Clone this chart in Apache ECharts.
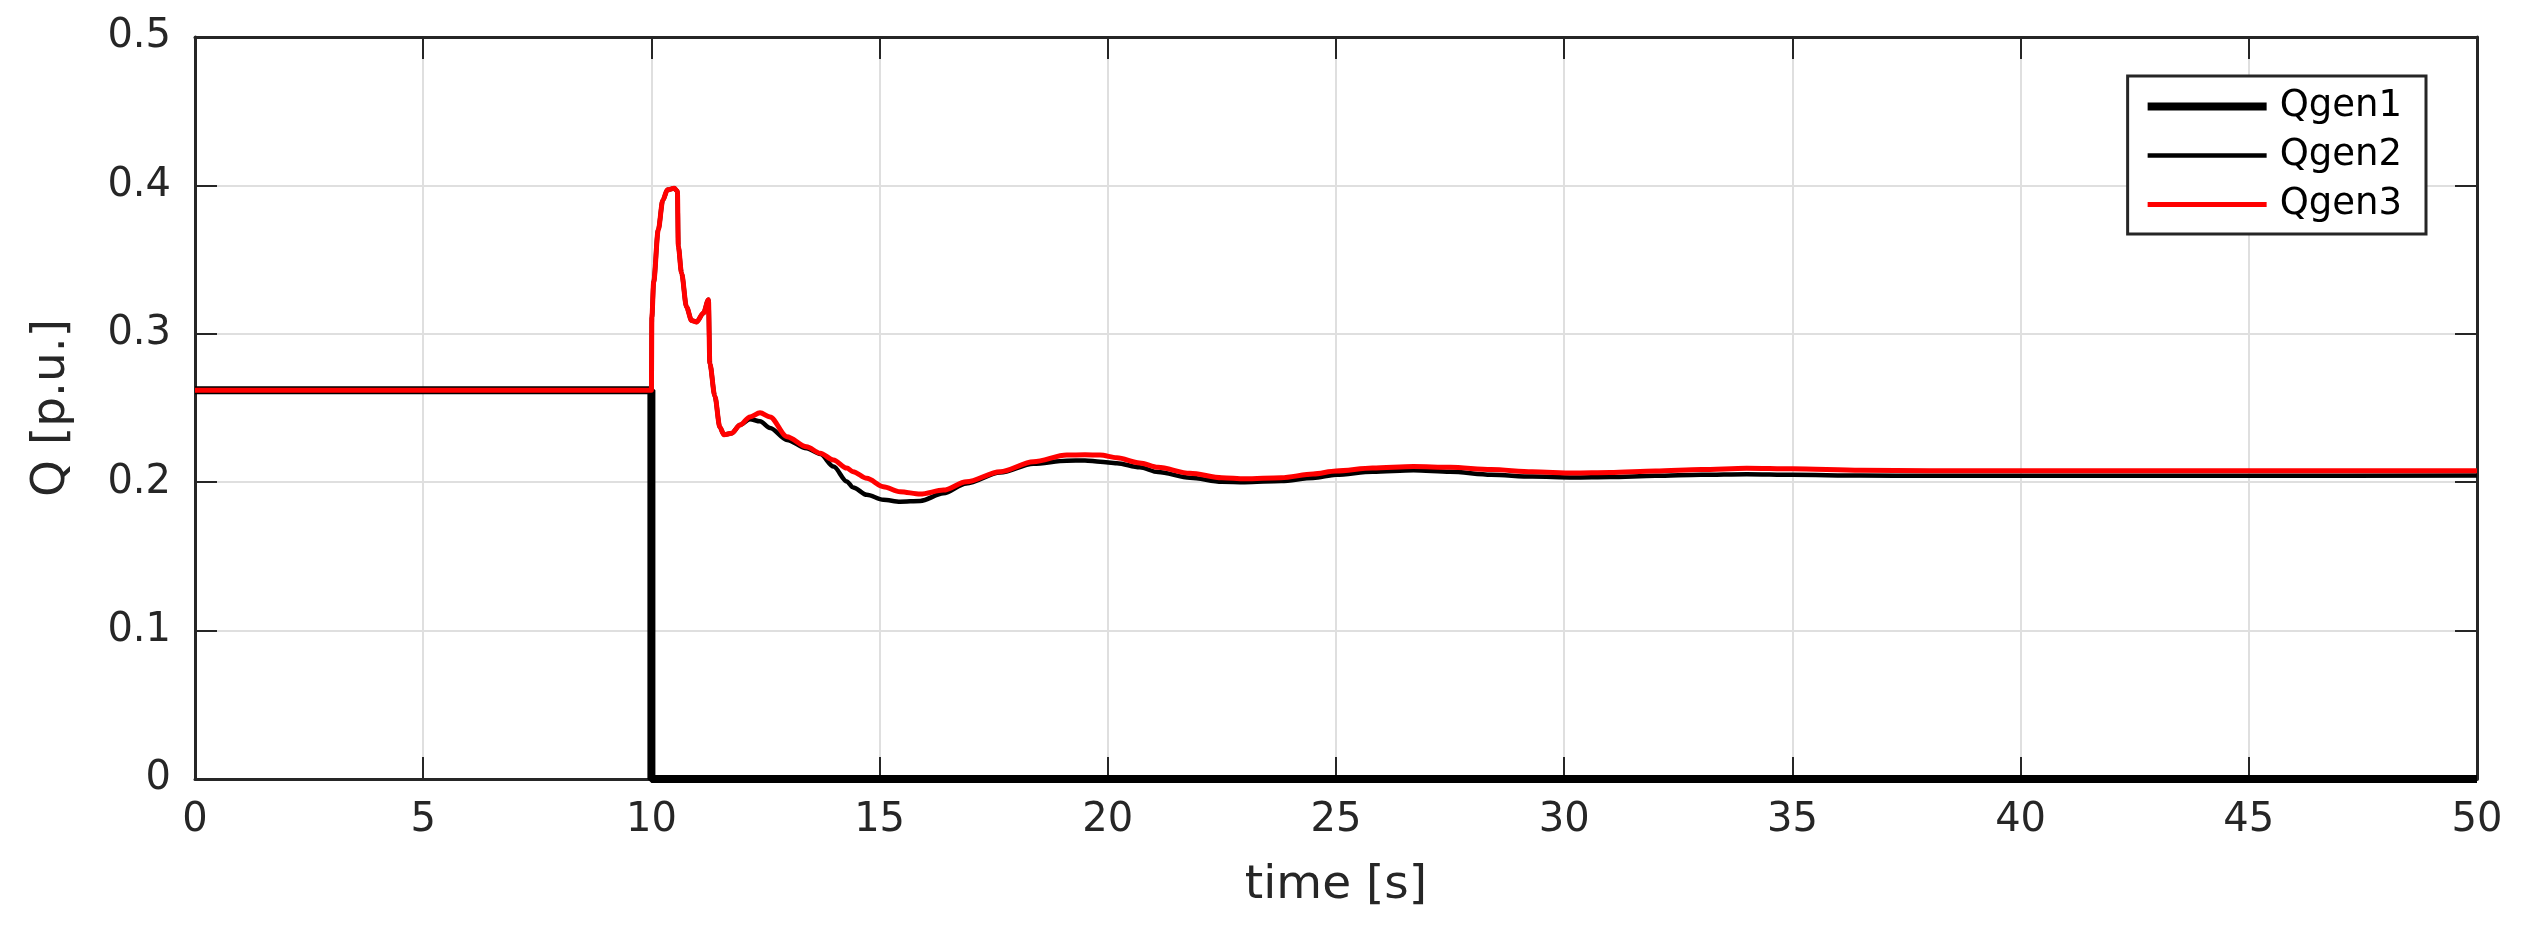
<!DOCTYPE html>
<html>
<head>
<meta charset="utf-8">
<title>Qgen</title>
<script src="https://cdn.jsdelivr.net/npm/echarts@6/dist/echarts.min.js"></script>
<style>
  html, body { margin: 0; padding: 0; background: #fff; }
  #chart { width: 2532px; height: 932px; }
</style>
</head>
<body>
<div id="chart"></div>
<script>
// Qgen1: step to zero at t = 10 s
const timeGen1 = [0, 10, 10, 50];
const qgen1 = [0.262, 0.262, 0, 0];

// Qgen2 / Qgen3 share one time base
const timeGen = [0, 10, 10.01, 10.05, 10.15, 10.25, 10.35, 10.5, 10.57, 10.59, 10.66, 10.77, 10.88, 10.99,
  11.14, 11.25, 11.28, 11.39, 11.5, 11.59, 11.76, 11.94, 12.16, 12.38, 12.6, 12.97, 13.4, 13.7, 13.99,
  14.28, 14.42, 14.72, 15.08, 15.45, 15.89, 16.4, 16.9, 17.64, 18.37, 19.1, 19.5, 19.83, 20.2, 20.7,
  21.1, 21.8, 22.5, 23.0, 23.8, 24.5, 25.0, 25.8, 26.7, 27.5, 28.4, 29.3, 30.2, 31, 32, 33, 34, 35,
  36.5, 38, 40, 45, 50];
const qgen2 = [0.262, 0.262, 0.311, 0.335, 0.37, 0.39, 0.397, 0.398, 0.396, 0.359, 0.341, 0.318, 0.309, 0.308,
  0.314, 0.323, 0.280, 0.258, 0.237, 0.232, 0.233, 0.2385, 0.2425, 0.241, 0.2365, 0.2285, 0.2228, 0.219, 0.2105,
  0.2005, 0.1965, 0.1915, 0.1882, 0.1869, 0.1874, 0.1925, 0.1992, 0.2065, 0.2125, 0.2145, 0.2147, 0.2138, 0.2128, 0.21,
  0.2068, 0.203, 0.2003, 0.200, 0.2008, 0.2028, 0.205, 0.207, 0.208, 0.207, 0.205, 0.2038, 0.2032, 0.2035, 0.2043, 0.205, 0.2054, 0.205,
  0.2045, 0.2043, 0.2043, 0.2044, 0.2045];
const qgen3 = [0.262, 0.262, 0.311, 0.335, 0.37, 0.39, 0.397, 0.398, 0.396, 0.359, 0.341, 0.318, 0.309, 0.308,
  0.314, 0.323, 0.280, 0.258, 0.237, 0.232, 0.233, 0.2385, 0.244, 0.2468, 0.244, 0.2307, 0.2239, 0.2195, 0.215,
  0.2095, 0.2071, 0.2026, 0.197, 0.1936, 0.192, 0.1947, 0.2003, 0.2071, 0.2138, 0.2183, 0.2185, 0.2183, 0.2165, 0.213,
  0.210, 0.206, 0.203, 0.2023, 0.203, 0.2055, 0.2075, 0.2095, 0.2106, 0.210, 0.2085, 0.207, 0.2062, 0.2065, 0.2075, 0.2085, 0.2094, 0.209,
  0.208, 0.2077, 0.2077, 0.2077, 0.2077];

const seriesNames = ['Qgen1', 'Qgen2', 'Qgen3'];

const pairs = (xs, ys) => xs.map((x, i) => [x, ys[i]]);

const axisColor = '#262626';
const font = '"DejaVu Sans", Verdana, sans-serif';

let myChart = echarts.init(document.getElementById('chart'));

const tickStyle = { show: true, inside: true, length: 22, lineStyle: { color: axisColor, width: 2 } };
const lineStyleAxis = { show: true, onZero: false, lineStyle: { color: axisColor, width: 3 } };

const xCommon = {
  type: 'value',
  min: 0,
  max: 50,
  interval: 5,
  axisLine: lineStyleAxis,
  axisTick: tickStyle
};
const yCommon = {
  type: 'value',
  min: 0,
  max: 0.5,
  interval: 0.1,
  axisLine: lineStyleAxis,
  axisTick: tickStyle
};

let option = {
  animation: false,
  backgroundColor: '#ffffff',
  grid: {
    left: 195,
    right: 55,
    top: 37,
    bottom: 153
  },
  legend: {
    data: seriesNames,
    orient: 'vertical',
    right: 106,
    top: 76,
    padding: [12, 24, 11, 16],
    itemGap: 12,
    itemWidth: 119,
    itemHeight: 14,
    backgroundColor: '#ffffff',
    borderColor: axisColor,
    borderWidth: 3,
    lineStyle: { width: 'inherit' },
    itemStyle: { opacity: 0 },
    textStyle: {
      fontFamily: font,
      fontSize: 37,
      color: '#000000',
      padding: [0, 0, 0, 8]
    }
  },
  xAxis: [
    Object.assign({}, xCommon, {
      position: 'bottom',
      name: 'time [s]',
      nameLocation: 'middle',
      nameGap: 83,
      nameTextStyle: { fontFamily: font, fontSize: 47, color: axisColor },
      axisLabel: { fontFamily: font, fontSize: 40, color: axisColor, margin: 22 },
      splitLine: { show: true, lineStyle: { color: '#dfdfdf', width: 2 } }
    }),
    Object.assign({}, xCommon, {
      position: 'top',
      axisLabel: { show: false },
      splitLine: { show: false }
    })
  ],
  yAxis: [
    Object.assign({}, yCommon, {
      position: 'left',
      name: 'Q [p.u.]',
      nameLocation: 'middle',
      nameGap: 120,
      nameTextStyle: { fontFamily: font, fontSize: 47, color: axisColor },
      axisLabel: { fontFamily: font, fontSize: 40, color: axisColor, margin: 24 },
      splitLine: { show: true, lineStyle: { color: '#dfdfdf', width: 2 } }
    }),
    Object.assign({}, yCommon, {
      position: 'right',
      axisLabel: { show: false },
      splitLine: { show: false }
    })
  ],
  series: [
    {
      name: 'Qgen1',
      type: 'line',
      symbol: 'none',
      lineStyle: { color: '#000000', width: 8 },
      itemStyle: { color: '#000000' },
      data: pairs(timeGen1, qgen1)
    },
    {
      name: 'Qgen2',
      type: 'line',
      symbol: 'none',
      smooth: 0.3,
      smoothMonotone: 'x',
      lineStyle: { color: '#000000', width: 4.5 },
      itemStyle: { color: '#000000' },
      data: pairs(timeGen, qgen2)
    },
    {
      name: 'Qgen3',
      type: 'line',
      symbol: 'none',
      smooth: 0.3,
      smoothMonotone: 'x',
      lineStyle: { color: '#ff0000', width: 5 },
      itemStyle: { color: '#ff0000' },
      data: pairs(timeGen, qgen3)
    }
  ]
};

option && myChart.setOption(option);
</script>
</body>
</html>
